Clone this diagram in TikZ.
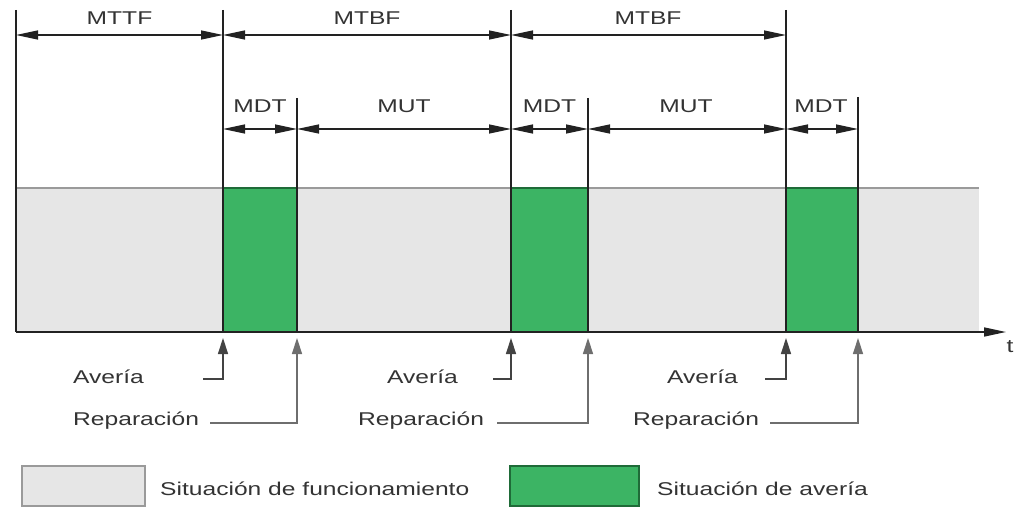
\documentclass[tikz,border=0pt]{standalone}
\usepackage{fontspec}
\setmainfont{Liberation Sans}[FakeStretch=1.33]
\usetikzlibrary{arrows.meta}
\definecolor{upgray}{HTML}{E6E6E6}
\definecolor{upedge}{HTML}{9A9A9A}
\definecolor{downgreen}{HTML}{3CB464}
\definecolor{downedge}{HTML}{1F6B38}
\definecolor{ink}{HTML}{222222}
\definecolor{txt}{HTML}{333333}
\definecolor{softink}{HTML}{6E6E6E}
\begin{document}
\begin{tikzpicture}[x=1pt,y=-1pt,
  lbl/.style={font=\fontsize{18.5}{20}\selectfont, text=txt, inner sep=0pt},
  vline/.style={draw=ink,line width=1.6pt},
  dimarrow/.style={draw=ink,line width=1.3pt,{Triangle[length=22pt,width=9pt]}-{Triangle[length=22pt,width=9pt]}},
  callout/.style={draw=ink!85,line width=1.4pt,-{Triangle[length=16pt,width=10pt]}},
  softcallout/.style={callout,draw=softink},
]
\useasboundingbox (0,0) rectangle (1014,508);

% state bands
\fill[upgray] (16,188) rectangle (979,332);
\draw[upedge,line width=1.2pt] (16,188) -- (979,188);
\foreach \a/\b in {223/297,511/588,786/858}{
  \fill[downgreen] (\a,188) rectangle (\b,332);
  \draw[downedge,line width=1.2pt] (\a,188) -- (\b,188);
}

% vertical markers
\coordinate (v0) at (16,10);
\coordinate (v1) at (223,10);
\coordinate (r1) at (297,98);
\coordinate (v2) at (511,10);
\coordinate (r2) at (588,98);
\coordinate (v3) at (786,10);
\coordinate (r3) at (858,97);
\foreach \c in {v0,v1,r1,v2,r2,v3,r3}{
  \draw[vline] (\c) -- (\c |- 0,332);
}

% time axis
\node[lbl,anchor=base] (t) at (1010,352) {t};
\draw[ink,line width=1.6pt,-{Triangle[length=22pt,width=9pt]}] (16,332) -- (1006,332);

% top level dimensions
\draw[dimarrow] (v0 |- 0,35) -- (v1 |- 0,35);
\draw[dimarrow] (v1 |- 0,35) -- (v2 |- 0,35);
\draw[dimarrow] (v2 |- 0,35) -- (v3 |- 0,35);
\node[lbl,anchor=base] (mttf) at (119.5,25) {MTTF};
\node[lbl,anchor=base] (mtbf1) at (367,25) {MTBF};
\node[lbl,anchor=base] (mtbf2) at (648,25) {MTBF};

% second level dimensions
\draw[dimarrow] (v1 |- 0,129) -- (r1 |- 0,129);
\draw[dimarrow] (r1 |- 0,129) -- (v2 |- 0,129);
\draw[dimarrow] (v2 |- 0,129) -- (r2 |- 0,129);
\draw[dimarrow] (r2 |- 0,129) -- (v3 |- 0,129);
\draw[dimarrow] (v3 |- 0,129) -- (r3 |- 0,129);
\node[lbl,anchor=base] (mdt1) at (260,113) {MDT};
\node[lbl,anchor=base] (mut1) at (404,113) {MUT};
\node[lbl,anchor=base] (mdt2) at (549.5,113) {MDT};
\node[lbl,anchor=base] (mut2) at (686,113) {MUT};
\node[lbl,anchor=base] (mdt3) at (821,113) {MDT};

% event call-outs
\node[lbl,anchor=base west] (av1) at (73,383) {Avería};
\node[lbl,anchor=base west] (re1) at (73,425) {Reparación};
\node[lbl,anchor=base west] (av2) at (387,383) {Avería};
\node[lbl,anchor=base west] (re2) at (358,425) {Reparación};
\node[lbl,anchor=base west] (av3) at (667,383) {Avería};
\node[lbl,anchor=base west] (re3) at (633,425) {Reparación};

\coordinate (ca1) at (203,379);
\coordinate (cr1) at (210,423);
\coordinate (ca2) at (493,379);
\coordinate (cr2) at (497,423);
\coordinate (ca3) at (765,379);
\coordinate (cr3) at (770,423);

\draw[callout] (ca1) -| (v1 |- 0,338);
\draw[softcallout] (cr1) -| (r1 |- 0,338);
\draw[callout] (ca2) -| (v2 |- 0,338);
\draw[softcallout] (cr2) -| (r2 |- 0,338);
\draw[callout] (ca3) -| (v3 |- 0,338);
\draw[softcallout] (cr3) -| (r3 |- 0,338);

% legend
\filldraw[fill=upgray,draw=upedge,line width=1.2pt] (22,466) rectangle (145,506);
\node[lbl,anchor=base west] (leg1) at (160,495) {Situación de funcionamiento};
\filldraw[fill=downgreen,draw=downedge,line width=1.2pt] (510,466) rectangle (639,506);
\node[lbl,anchor=base west] (leg2) at (657,495) {Situación de avería};
\end{tikzpicture}
\end{document}
